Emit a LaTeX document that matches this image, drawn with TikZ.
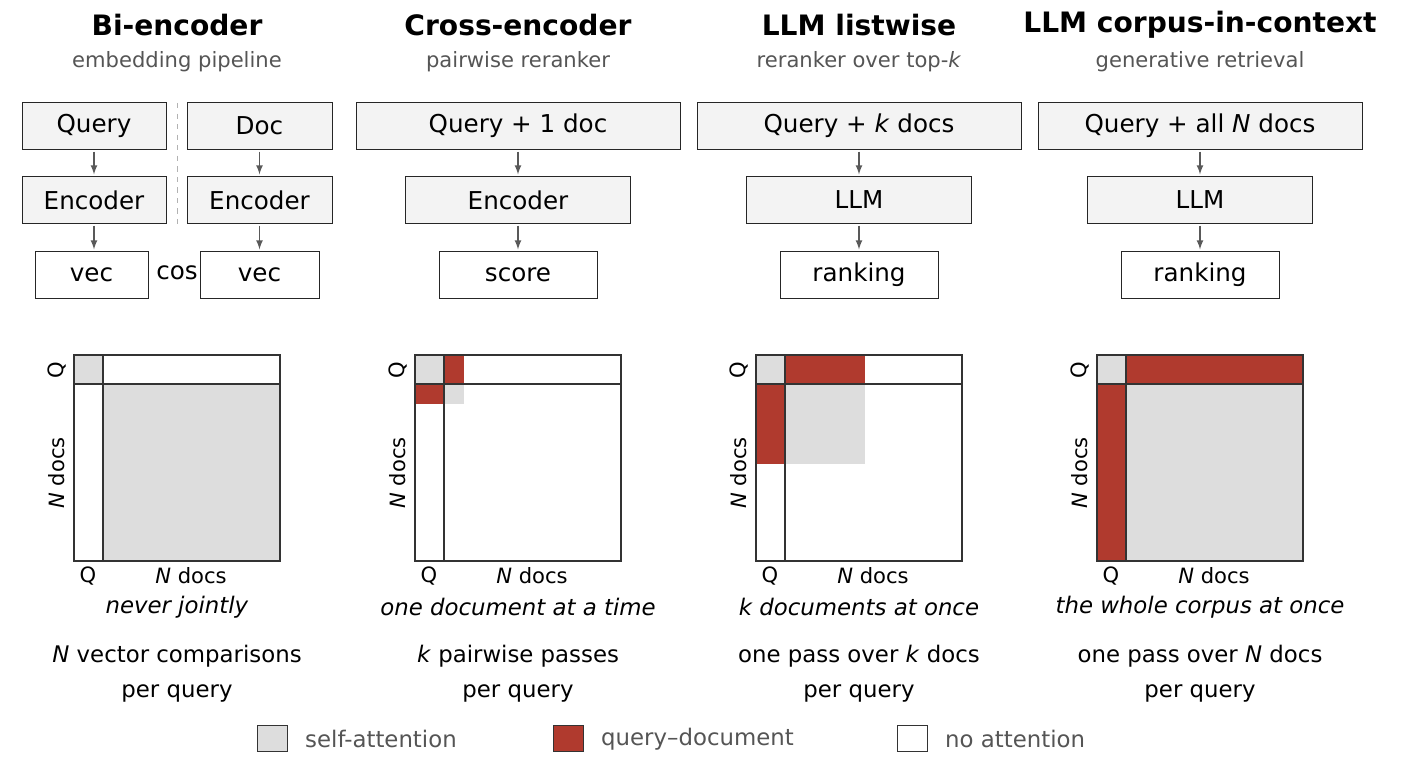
\documentclass[tikz,border=0pt]{standalone}
\usepackage{fontspec}
\setmainfont{DejaVu Sans}
\usepackage{tikz}
\usetikzlibrary{calc}
\definecolor{qdred}{HTML}{B03A2E}
\definecolor{selfgray}{HTML}{DDDDDD}
\definecolor{boxfill}{HTML}{F3F3F3}
\definecolor{subgray}{HTML}{555555}
\begin{document}
\begin{tikzpicture}[x=0.02cm,y=-0.02cm]
    \tikzset{stage/.style={draw=black!85,fill=boxfill,minimum height=0.94cm,inner sep=0pt,font=\fontsize{14}{16}\selectfont}}
    \tikzset{result/.style={stage,fill=white}}
    \tikzset{flow/.style={-latex,draw=black!65,thick,shorten <=1pt,shorten >=1pt}}
    \tikzset{title/.style={font=\fontsize{16}{18}\selectfont\bfseries}}
    \tikzset{subtitle/.style={font=\fontsize{12}{14}\selectfont,text=subgray}}
    \tikzset{caption/.style={font=\fontsize{13}{15}\selectfont,align=center}}
    \tikzset{axis/.style={font=\fontsize{12}{14}\selectfont}}
    \useasboundingbox (0,0) rectangle (1412,776);

    % titles
    \node[title] (t1) at (177,25) {Bi-encoder};
    \node[subtitle] (s1) at (177,62) {embedding pipeline};
    \node[title] (t2) at (518,25) {Cross-encoder};
    \node[subtitle] (s2) at (518,62) {pairwise reranker};
    \node[title] (t3) at (859,25) {LLM listwise};
    \node[subtitle] (s3) at (859,62) {reranker over top-\textit{k}};
    \node[title] (t4) at (1200,25) {LLM corpus-in-context};
    \node[subtitle] (s4) at (1200,62) {generative retrieval};

    % bi-encoder pipeline
    \node[stage,minimum width=2.88cm] (bq) at (94,126) {Query};
    \node[stage,minimum width=2.9cm] (bd) at (259.5,126) {Doc};
    \node[stage,minimum width=2.88cm] (beq) at (94,200) {Encoder};
    \node[stage,minimum width=2.9cm] (bed) at (259.5,200) {Encoder};
    \node[result,minimum width=2.26cm] (bvq) at (91.5,275) {vec};
    \node[result,minimum width=2.38cm] (bvd) at (259.5,275) {vec};
    \node[font=\fontsize{14}{16}\selectfont] (cos) at (177,273) {cos};
    \draw[flow] (bq) -- (beq);
    \draw[flow] (bd) -- (bed);
    \draw[flow] (beq) -- (bvq.north -| beq);
    \draw[flow] (bed) -- (bvd);
    \coordinate (sepa) at (177,103);
    \coordinate (sepb) at (177,224);
    \draw[dashed,black!30] (sepa) -- (sepb);

    % other pipelines
    \foreach \cx/\inp/\mid/\outp/\nm in {518/Query + 1 doc/Encoder/score/c,
        859/Query + \textit{k} docs/LLM/ranking/l,
        1200/Query + all \textit{N} docs/LLM/ranking/g}{
        \node[stage,minimum width=6.48cm] (\nm in) at (\cx,126) {\inp};
        \node[stage,minimum width=4.5cm] (\nm mid) at (\cx,200) {\mid};
        \node[result,minimum width=3.16cm] (\nm out) at (\cx,275) {\outp};
        \draw[flow] (\nm in) -- (\nm mid);
        \draw[flow] (\nm mid) -- (\nm out);
    }

    % attention maps
    \foreach \x/\r/\g in {74/0/177, 415/20/20, 756/80/80, 1097/177/177}{
        \fill[selfgray] (\x,355) rectangle ++(29,29);
        \fill[selfgray] (\x+29,384) rectangle ++(\g,\g);
        \fill[qdred] (\x+29,355) rectangle ++(\r,29);
        \fill[qdred] (\x,384) rectangle ++(29,\r);
        \draw[black!80,thick] (\x,355) rectangle ++(206,206);
        \draw[black!80,thick] (\x,384) -- ++(206,0);
        \draw[black!80,thick] (\x+29,355) -- ++(0,206);
        \node[axis,rotate=90] at (\x-17,370) {Q};
        \node[axis,rotate=90] at (\x-17,473) {\textit{N} docs};
        \node[axis] at (\x+14,576) {Q};
        \node[axis] at (\x+117,576) {\textit{N} docs};
    }

    % captions
    \node[caption] (m1) at (177,607) {\textit{never jointly}};
    \node[caption] (m2) at (518,607) {\textit{one document at a time}};
    \node[caption] (m3) at (859,607) {\textit{k documents at once}};
    \node[caption] (m4) at (1200,607) {\textit{the whole corpus at once}};
    \node[caption] (c1) at (177,674) {\textit{N} vector comparisons\\[5pt]per query};
    \node[caption] (c2) at (518,674) {\textit{k} pairwise passes\\[5pt]per query};
    \node[caption] (c3) at (859,674) {one pass over \textit{k} docs\\[5pt]per query};
    \node[caption] (c4) at (1200,674) {one pass over \textit{N} docs\\[5pt]per query};

    % legend
    \foreach \x/\col/\lab in {257/selfgray/self-attention, 553/qdred/query--document, 897/white/no attention}{
        \draw[black!80,fill=\col] (\x,725) rectangle ++(30,26);
        \node[subtitle,font=\fontsize{13}{15}\selectfont,anchor=west] at (\x+42,739) {\lab};
    }
\end{tikzpicture}
\end{document}
